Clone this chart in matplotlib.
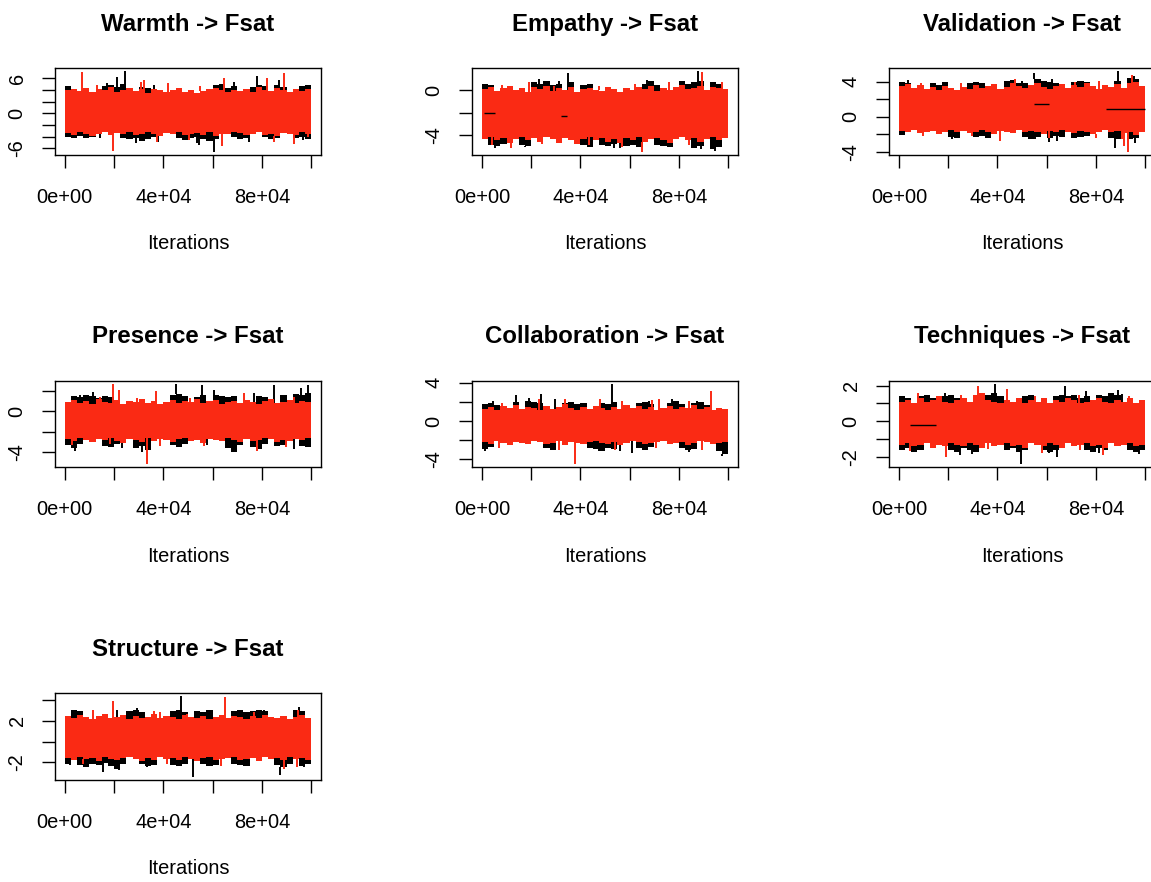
import matplotlib
matplotlib.use("Agg")
import matplotlib.pyplot as plt
import numpy as np

plt.rcParams['font.family'] = ['Liberation Sans', 'DejaVu Sans']

n_iter = 100000
red = '#fa2a14'

titles = ["Warmth -> Fsat", "Empathy -> Fsat", "Validation -> Fsat",
          "Presence -> Fsat", "Collaboration -> Fsat", "Techniques -> Fsat",
          "Structure -> Fsat"]

# max / min of each chain over 40 blocks of 2500 iterations
warmth_black_hi = [4.7, 3.8, 3.6, 4.0, 3.5, 3.9, 4.6, 4.9, 4.5, 5.0, 4.0, 3.7, 4.5, 4.4, 3.9, 3.7, 3.5, 3.8, 4.0, 3.6,
                   3.7, 3.3, 3.6, 3.9, 4.8, 5.0, 4.4, 4.6, 3.7, 4.0, 4.5, 4.9, 4.6, 3.6, 4.8, 4.5, 3.5, 3.9, 4.6, 4.9]
warmth_black_lo = [-4.0, -4.3, -3.9, -4.2, -4.1, -3.4, -3.1, -3.6, -3.3, -4.2, -4.5, -4.3, -4.8, -4.4, -4.1, -3.7, -3.3, -3.4, -4.2, -4.6,
                   -4.3, -4.0, -4.5, -4.7, -4.4, -3.4, -3.5, -4.1, -4.4, -4.2, -3.4, -3.2, -4.1, -4.5, -4.2, -3.3, -3.4, -4.3, -4.0, -4.4]
warmth_red_hi = [3.9, 4.2, 3.8, 4.4, 3.6, 4.1, 3.9, 4.5, 3.7, 4.0, 4.3, 3.8, 4.1, 3.5, 4.2, 3.9, 3.6, 4.0, 4.3, 3.7,
                 3.9, 3.4, 3.8, 4.1, 4.4, 3.9, 3.6, 4.0, 3.8, 4.2, 3.7, 4.5, 4.0, 3.8, 4.3, 3.9, 3.6, 4.1, 3.8, 4.2]
warmth_red_lo = [-3.4, -3.7, -3.3, -3.6, -3.9, -3.5, -3.2, -3.8, -3.4, -3.6, -3.3, -3.7, -3.5, -3.2, -3.6, -3.9, -3.4, -3.5, -3.3, -3.8,
                 -3.6, -3.4, -3.7, -3.3, -3.9, -3.5, -3.6, -3.2, -3.4, -3.8, -3.5, -3.3, -3.7, -3.6, -3.9, -3.4, -3.5, -3.7, -3.3, -3.6]
warmth_black_spikes = [(21000, 6.2), (24500, 7.2), (38000, -5.0), (54500, -5.5), (60500, -6.6), (78000, 6.3), (29000, -5.1),
                       (17000, 5.1), (36000, 4.9), (68700, 5.4), (87000, 5.7), (14300, -4.3), (53700, -5.1), (74800, -4.9),
                       (96600, -4.6)]
warmth_red_spikes = [(6800, 7.0), (19600, -6.5), (31000, 5.4), (64500, 6.1), (64000, -5.7), (89000, 6.9), (93000, -5.3),
                     (12900, 4.9), (32000, 5.7), (42000, 5.1), (55000, 4.6), (82000, 6.0), (37400, -4.9), (50300, -4.6),
                     (85000, -4.9), (98600, -4.0)]
warmth_stalls = []

empathy_black_hi = [0.6, 0.5, -0.2, 0.0, 0.3, -0.1, 0.1, -0.3, 0.7, 0.6, 0.8, 0.5, 0.6, -0.1, 0.7, -0.3, 0.5, 0.6, -0.1, -0.2,
                    0.2, 0.0, -0.3, 0.1, -0.1, 0.2, 0.6, 0.8, 0.5, 0.1, -0.1, 0.2, 0.8, 0.6, 0.7, 0.8, -0.1, 0.7, 0.6, 0.0]
empathy_black_lo = [-4.3, -4.9, -5.0, -4.8, -4.5, -4.3, -4.9, -5.0, -4.2, -4.5, -4.1, -4.3, -4.6, -4.2, -4.4, -4.6, -4.9, -5.1, -4.4, -4.9,
                    -5.0, -4.8, -4.6, -5.0, -4.9, -5.1, -4.5, -4.3, -4.9, -5.0, -5.1, -4.3, -4.1, -4.4, -5.2, -5.0, -4.3, -5.3, -5.1, -4.2]
empathy_red_hi = [0.1, 0.3, -0.1, 0.2, 0.4, 0.0, 0.2, -0.2, 0.3, 0.1, 0.4, -0.1, 0.2, 0.0, 0.3, -0.2, 0.1, 0.2, 0.0, -0.1,
                  0.3, 0.1, -0.2, 0.2, 0.0, 0.3, 0.1, 0.4, -0.1, 0.2, 0.0, 0.3, 0.5, 0.1, 0.2, 0.4, 0.0, 0.3, 0.2, 0.1]
empathy_red_lo = [-4.4, -4.2, -4.5, -4.3, -4.7, -4.4, -4.2, -4.5, -4.3, -4.6, -4.2, -4.4, -4.7, -4.3, -4.5, -4.8, -4.4, -4.2, -4.5, -4.3,
                  -4.6, -4.4, -4.7, -4.3, -4.5, -4.2, -4.6, -4.4, -4.3, -4.5, -4.7, -4.4, -4.2, -4.5, -4.3, -4.6, -4.4, -4.2, -4.5, -4.3]
empathy_black_spikes = [(34800, 1.5), (87800, 1.7), (94500, -5.4), (56000, -5.2),
                        (23000, 1.0), (31200, 0.85), (67000, 0.95), (81300, 0.85), (94200, 0.7),
                        (5400, -5.2), (17600, -5.1), (53500, -5.2), (65000, -5.1), (88800, -5.3)]
empathy_red_spikes = [(89400, 1.6), (65000, -5.5), (12000, -5.2),
                      (8100, 0.45), (19000, 0.7), (29100, 0.4), (47400, 0.4), (62300, 0.6), (75900, 0.7), (97600, 0.7),
                      (4100, -4.9), (24400, -4.8), (43400, -4.9), (56900, -5.1), (84000, -4.9)]
empathy_stalls = [(700, 5400, -2.0), (32000, 34500, -2.3)]

validation_black_hi = [4.0, 3.9, 3.1, 3.3, 3.0, 3.9, 3.6, 4.0, 3.1, 2.9, 3.2, 3.8, 4.0, 3.9, 3.2, 3.5, 3.0, 4.1, 4.2, 3.9,
                       3.8, 3.4, 4.3, 4.1, 4.0, 3.9, 3.5, 3.1, 4.0, 4.1, 4.0, 3.3, 3.0, 3.4, 3.2, 4.1, 3.1, 4.4, 4.3, 3.3]
validation_black_lo = [-2.1, -1.6, -1.4, -1.7, -1.6, -1.4, -1.8, -1.6, -2.3, -2.4, -1.5, -1.7, -2.3, -2.2, -2.4, -1.8, -1.5, -1.6, -1.7, -1.4,
                       -2.3, -2.5, -2.3, -1.8, -2.4, -2.2, -2.3, -1.6, -2.4, -2.3, -2.2, -1.8, -1.6, -1.4, -2.4, -2.5, -1.7, -2.6, -2.4, -1.7]
validation_red_hi = [3.5, 3.7, 3.3, 3.6, 3.2, 3.4, 3.1, 3.5, 3.3, 3.0, 3.4, 3.2, 3.6, 3.3, 3.5, 3.7, 3.2, 3.4, 3.8, 3.5,
                     3.3, 3.6, 3.9, 3.4, 3.2, 3.5, 3.7, 3.3, 3.6, 3.4, 3.8, 3.5, 3.2, 3.6, 3.4, 3.7, 3.3, 3.9, 4.0, 3.5]
validation_red_lo = [-1.6, -1.8, -1.5, -1.9, -1.7, -1.6, -2.0, -1.7, -1.5, -1.8, -1.6, -1.9, -1.7, -1.5, -1.8, -2.0, -1.6, -1.7, -1.9, -1.5,
                     -1.8, -1.6, -1.7, -2.0, -1.6, -1.8, -1.5, -1.7, -1.9, -1.6, -1.8, -2.0, -1.7, -1.5, -1.8, -1.6, -1.9, -1.7, -2.1, -1.8]
validation_black_spikes = [(55000, 5.0), (89000, 5.2), (87600, -3.6), (96000, -3.0), (61000, -2.9),
                           (3700, 4.2), (18000, 4.0), (32200, 3.9), (50000, 4.1), (62200, 4.3), (95500, 4.6),
                           (21400, -2.5), (35000, -2.4), (55400, -2.6), (64200, -2.8)]
validation_red_spikes = [(94800, 4.8), (93200, -4.0), (41000, -2.8), (91500, -3.3),
                         (9100, 3.9), (25400, 3.8), (47200, 4.3), (71700, 4.0), (81200, 4.1),
                         (9600, -2.2), (29500, -2.2), (60800, -2.4), (79900, -2.4), (90700, -2.6)]
validation_stalls = [(54700, 60800, 1.4), (84000, 100000, 0.85)]

presence_black_hi = [0.8, 1.5, 1.4, 1.6, 1.5, 1.3, 1.5, 1.4, 0.9, 0.6, 0.8, 0.7, 1.0, 0.7, 0.8, 0.6, 0.7, 1.6, 1.7, 1.5,
                     0.8, 1.4, 1.6, 0.9, 1.6, 1.5, 1.4, 1.5, 0.7, 1.0, 0.8, 1.5, 1.4, 1.0, 0.7, 1.6, 0.9, 1.7, 1.6, 1.8]
presence_black_lo = [-3.3, -3.6, -3.2, -2.7, -2.9, -2.6, -3.4, -3.5, -3.2, -2.9, -2.6, -3.6, -3.4, -3.8, -2.8, -2.6, -2.7, -3.3, -3.5, -3.2,
                     -2.8, -2.7, -2.9, -2.6, -2.7, -2.8, -3.6, -4.0, -3.3, -2.6, -3.5, -3.7, -3.2, -2.6, -3.4, -3.3, -2.8, -2.6, -3.4, -3.5]
presence_red_hi = [0.9, 1.1, 0.8, 1.0, 0.7, 1.2, 0.9, 0.8, 1.1, 0.7, 1.0, 0.9, 1.2, 0.8, 1.0, 0.7, 0.9, 1.1, 0.8, 1.0,
                   0.9, 1.2, 0.8, 1.0, 1.1, 0.7, 0.9, 1.0, 0.8, 1.1, 0.9, 0.7, 1.0, 1.2, 0.8, 0.9, 1.1, 0.8, 1.0, 0.9]
presence_red_lo = [-2.7, -2.9, -2.6, -2.8, -3.0, -2.7, -2.8, -2.6, -2.9, -3.1, -2.7, -2.8, -3.0, -2.6, -2.9, -2.7, -2.8, -3.0, -2.7, -2.6,
                   -2.9, -2.8, -3.1, -2.7, -2.8, -2.9, -2.6, -2.8, -3.0, -2.7, -2.9, -2.8, -2.6, -2.7, -3.0, -2.8, -2.9, -2.7, -2.8, -2.6]
presence_black_spikes = [(45300, 2.7), (55800, 2.6), (85000, 2.6), (98600, 2.6), (68500, -4.0), (31500, -4.0),
                         (6100, 1.6), (11600, 1.9), (60500, 2.1), (76900, 1.8), (95900, 2.3),
                         (4100, -3.9), (23100, -3.6), (57800, -3.3), (93200, -3.7)]
presence_red_spikes = [(19500, 2.7), (37000, 2.0), (33300, -5.2), (78000, -3.9), (22000, 2.1),
                       (14300, 1.45), (29300, 1.3), (51000, 1.3), (72800, 1.8), (93200, 1.45),
                       (2700, -3.3), (18400, -3.2), (38800, -3.45), (56500, -3.4), (89800, -3.5)]
presence_stalls = []

collab_black_hi = [1.8, 1.9, 1.7, 1.2, 1.3, 2.0, 1.2, 2.1, 2.0, 1.9, 1.4, 1.2, 1.3, 1.9, 2.0, 1.8, 1.9, 1.2, 1.4, 1.9,
                   1.8, 2.0, 1.2, 1.5, 1.3, 1.9, 2.0, 1.8, 1.1, 1.3, 1.9, 2.1, 1.8, 1.2, 1.9, 2.0, 1.7, 1.1, 1.3, 1.2]
collab_black_lo = [-2.9, -2.7, -2.0, -2.2, -2.3, -2.1, -2.2, -2.3, -2.0, -2.1, -2.8, -3.0, -2.0, -2.3, -2.1, -2.2, -2.3, -2.8, -2.9, -3.1,
                   -2.8, -2.9, -2.3, -2.2, -2.0, -2.8, -3.0, -2.7, -2.1, -2.0, -2.3, -2.2, -2.8, -3.0, -2.9, -2.0, -2.1, -2.3, -3.1, -3.4]
collab_red_hi = [1.3, 1.5, 1.2, 1.6, 1.4, 1.7, 1.3, 1.5, 1.4, 1.2, 1.6, 1.3, 1.5, 1.8, 1.4, 1.2, 1.5, 1.3, 1.6, 1.4,
                 1.2, 1.5, 1.3, 1.7, 1.4, 1.6, 1.3, 1.5, 1.2, 1.4, 1.6, 1.3, 1.5, 1.4, 1.7, 1.3, 1.5, 1.2, 1.4, 1.3]
collab_red_lo = [-2.2, -2.4, -2.1, -2.3, -2.5, -2.2, -2.3, -2.4, -2.1, -2.2, -2.4, -2.3, -2.1, -2.5, -2.2, -2.3, -2.4, -2.2, -2.1, -2.3,
                 -2.4, -2.2, -2.5, -2.3, -2.1, -2.2, -2.4, -2.3, -2.2, -2.1, -2.4, -2.3, -2.2, -2.5, -2.3, -2.1, -2.2, -2.4, -2.3, -2.2]
collab_black_spikes = [(52800, 3.9), (24000, 2.8), (14000, 2.7), (97500, -3.6), (56000, -3.1),
                       (4700, 2.1), (19000, 2.4), (29800, 2.3), (67800, 2.1), (77200, 2.3), (87400, 2.1),
                       (1400, -3.1), (28500, -2.8), (47400, -3.1), (61000, -3.3), (84000, -3.2)]
collab_red_spikes = [(93200, 3.1), (48000, 2.3), (37700, -4.5), (69000, 2.2),
                     (8100, 1.9), (23000, 2.3), (33900, 2.3), (56900, 2.1), (71800, 2.3), (84000, 2.1),
                     (6800, -2.8), (31200, -3.0), (54200, -3.0), (70500, -2.8), (89400, -3.0)]
collab_stalls = []

tech_black_hi = [1.4, 1.3, 0.9, 1.4, 1.5, 1.3, 1.0, 1.4, 1.5, 1.3, 1.0, 1.0, 1.1, 1.0, 1.5, 1.6, 1.4, 1.0, 0.9, 1.1,
                 1.4, 1.5, 0.9, 1.0, 0.9, 1.4, 1.5, 1.4, 1.5, 1.3, 1.4, 1.0, 1.5, 1.4, 1.6, 1.5, 0.9, 1.1, 0.9, 1.0]
tech_black_lo = [-1.6, -1.5, -1.7, -1.6, -1.1, -1.2, -1.1, -1.2, -1.6, -1.7, -1.5, -1.6, -1.7, -1.3, -1.1, -1.2, -1.1, -1.6, -1.5, -1.7,
                 -1.6, -1.1, -1.2, -1.6, -1.7, -1.6, -1.5, -1.1, -1.2, -1.1, -1.6, -1.7, -1.5, -1.6, -1.1, -1.2, -1.1, -1.6, -1.7, -1.6]
tech_red_hi = [1.1, 1.2, 1.0, 1.3, 1.1, 1.2, 1.4, 1.1, 1.0, 1.2, 1.3, 1.1, 1.5, 1.6, 1.2, 1.1, 1.0, 1.2, 1.1, 1.3,
               1.0, 1.2, 1.1, 1.3, 1.0, 1.2, 1.1, 1.3, 1.2, 1.0, 1.1, 1.2, 1.3, 1.1, 1.0, 1.2, 1.1, 1.3, 1.0, 1.2]
tech_red_lo = [-1.3, -1.2, -1.4, -1.3, -1.2, -1.5, -1.3, -1.4, -1.2, -1.3, -1.4, -1.2, -1.3, -1.5, -1.2, -1.4, -1.3, -1.2, -1.4, -1.3,
               -1.5, -1.2, -1.3, -1.4, -1.2, -1.3, -1.5, -1.2, -1.4, -1.3, -1.2, -1.4, -1.3, -1.5, -1.2, -1.4, -1.3, -1.2, -1.4, -1.3]
tech_black_spikes = [(39000, 2.1), (67500, 1.95), (89000, 1.75), (49500, -2.4), (64000, -2.0), (25000, -1.9),
                     (1600, 1.3), (18600, 1.57), (52700, 1.45), (75800, 1.67), (90700, 1.54),
                     (6400, -1.7), (29500, -1.85), (60800, -1.76), (81200, -1.76), (97600, -1.85)]
tech_red_spikes = [(32000, 2.0), (19200, -2.0), (83000, -1.9), (44000, 1.8),
                   (7800, 1.57), (25400, 1.5), (55400, 1.4), (73100, 1.5), (93500, 1.4),
                   (4400, -1.67), (36300, -1.57), (58100, -1.76), (73600, -1.6)]
tech_stalls = [(4400, 15200, -0.2)]

struct_black_hi = [2.3, 3.0, 2.9, 2.2, 2.1, 2.4, 2.3, 2.2, 2.1, 2.4, 2.9, 3.0, 2.8, 2.2, 2.3, 2.1, 2.2, 2.9, 3.0, 2.8,
                   2.3, 2.9, 2.8, 3.0, 2.2, 2.4, 2.1, 2.9, 3.0, 2.8, 2.9, 3.0, 2.9, 2.1, 2.2, 2.4, 2.1, 3.0, 2.9, 2.2]
struct_black_lo = [-2.2, -1.6, -2.3, -2.5, -2.2, -2.3, -2.1, -2.4, -2.6, -2.2, -1.4, -1.6, -2.2, -2.4, -2.3, -1.5, -1.6, -2.3, -2.4, -2.2,
                   -1.6, -1.7, -2.2, -2.4, -2.3, -1.6, -1.5, -2.2, -2.3, -2.4, -1.5, -1.7, -1.4, -1.6, -2.3, -2.5, -2.2, -1.6, -2.4, -2.2]
struct_red_hi = [2.5, 2.3, 2.6, 2.4, 2.2, 2.5, 2.7, 2.3, 2.4, 2.6, 2.2, 2.5, 2.3, 2.4, 2.7, 2.3, 2.5, 2.4, 2.2, 2.6,
                 2.4, 2.3, 2.5, 2.2, 2.4, 2.6, 2.3, 2.5, 2.4, 2.2, 2.5, 2.3, 2.6, 2.4, 2.3, 2.5, 2.2, 2.4, 2.6, 2.3]
struct_red_lo = [-1.6, -1.8, -1.5, -1.7, -1.6, -1.9, -1.5, -1.7, -1.8, -1.6, -1.5, -1.7, -1.9, -1.6, -1.8, -1.5, -1.7, -1.6, -1.8, -1.5,
                 -1.7, -1.9, -1.6, -1.5, -1.8, -1.7, -1.6, -1.5, -1.8, -1.7, -1.6, -1.9, -1.5, -1.7, -1.6, -1.8, -1.5, -1.7, -1.6, -1.8]
struct_black_spikes = [(47000, 4.35), (52000, -3.4), (87500, -3.25), (95000, 3.3), (15500, -2.9), (21000, 3.0),
                       (6100, 2.8), (29300, 3.2), (59200, 3.0), (81000, 3.0),
                       (2000, -2.3), (21800, -2.7), (33300, -2.5), (74100, -2.4), (97300, -2.5)]
struct_red_spikes = [(65000, 4.25), (19500, 3.9), (89000, -2.6), (36000, 2.9),
                     (11600, 3.0), (38800, 2.8), (49700, 2.65), (76900, 2.8), (94600, 3.0),
                     (7500, -2.15), (41500, -2.15), (63300, -2.4), (94100, -2.45)]
struct_stalls = []

ytick_values = [[-6, -4, -2, 0, 2, 4, 6], [-4, -2, 0], [-4, -2, 0, 2, 4], [-4, -2, 0, 2],
                [-4, -2, 0, 2, 4], [-2, -1, 0, 1, 2], [-2, 0, 2, 4]]
ytick_labels = [['-6', '', '', '0', '', '', '6'], ['-4', '', '0'], ['-4', '', '0', '', '4'],
                ['-4', '', '0', ''], ['-4', '', '0', '', '4'], ['-2', '', '0', '', '2'], ['-2', '', '2', '']]
xtick_values = [0, 20000, 40000, 60000, 80000, 100000]
xtick_labels = ['0e+00', '', '4e+04', '', '8e+04', '']

panels = [
    (warmth_black_hi, warmth_black_lo, warmth_red_hi, warmth_red_lo, warmth_black_spikes, warmth_red_spikes, warmth_stalls),
    (empathy_black_hi, empathy_black_lo, empathy_red_hi, empathy_red_lo, empathy_black_spikes, empathy_red_spikes, empathy_stalls),
    (validation_black_hi, validation_black_lo, validation_red_hi, validation_red_lo, validation_black_spikes, validation_red_spikes, validation_stalls),
    (presence_black_hi, presence_black_lo, presence_red_hi, presence_red_lo, presence_black_spikes, presence_red_spikes, presence_stalls),
    (collab_black_hi, collab_black_lo, collab_red_hi, collab_red_lo, collab_black_spikes, collab_red_spikes, collab_stalls),
    (tech_black_hi, tech_black_lo, tech_red_hi, tech_red_lo, tech_black_spikes, tech_red_spikes, tech_stalls),
    (struct_black_hi, struct_black_lo, struct_red_hi, struct_red_lo, struct_black_spikes, struct_red_spikes, struct_stalls),
]


def draw_chain(ax, hi, lo, spikes, color, z):
    hi = np.asarray(hi)
    lo = np.asarray(lo)
    nb = len(hi)
    edges = np.linspace(0, n_iter, nb + 1)
    ax.fill_between(edges, np.append(lo, lo[-1]), np.append(hi, hi[-1]),
                    step='post', color=color, linewidth=0, zorder=z)
    # single draws that leave the block envelope
    for it, val in spikes:
        k = min(int(it / n_iter * nb), nb - 1)
        if val > hi[k]:
            ax.vlines(it, hi[k], val, color=color, linewidth=1.4, zorder=z + 0.5)
        elif val < lo[k]:
            ax.vlines(it, val, lo[k], color=color, linewidth=1.4, zorder=z + 0.5)


fig = plt.figure(figsize=(11.51, 8.82), dpi=100)
gs = fig.add_gridspec(3, 3, left=0.0478, right=1.0035, top=0.9229, bottom=0.1156,
                      wspace=0.568, hspace=2.598)

for i, (bhi, blo, rhi, rlo, bsp, rsp, stalls) in enumerate(panels):
    ax = fig.add_subplot(gs[i // 3, i % 3])
    draw_chain(ax, bhi, blo, bsp, 'black', 1)
    draw_chain(ax, rhi, rlo, rsp, red, 2)
    for start, end, val in stalls:
        ax.hlines(val, start, end, color='black', linewidth=1, zorder=3)
    ax.margins(x=0.04, y=0.04)

    ax.set_title(titles[i], fontsize=17.3, fontweight='bold', pad=27)
    ax.set_xlabel("Iterations", fontsize=14.4, labelpad=20)
    ax.set_xticks(xtick_values)
    ax.set_xticklabels(xtick_labels, fontsize=14.4)
    ax.set_yticks(ytick_values[i])
    ax.set_yticklabels(ytick_labels[i], fontsize=14.4, rotation=90, va='center')
    ax.tick_params(axis='x', direction='out', length=9.5, width=1, pad=14)
    ax.tick_params(axis='y', direction='out', length=9.5, width=1, pad=11)
    for sp in ax.spines.values():
        sp.set_linewidth(1)

fig.savefig("out.png", dpi=100)
